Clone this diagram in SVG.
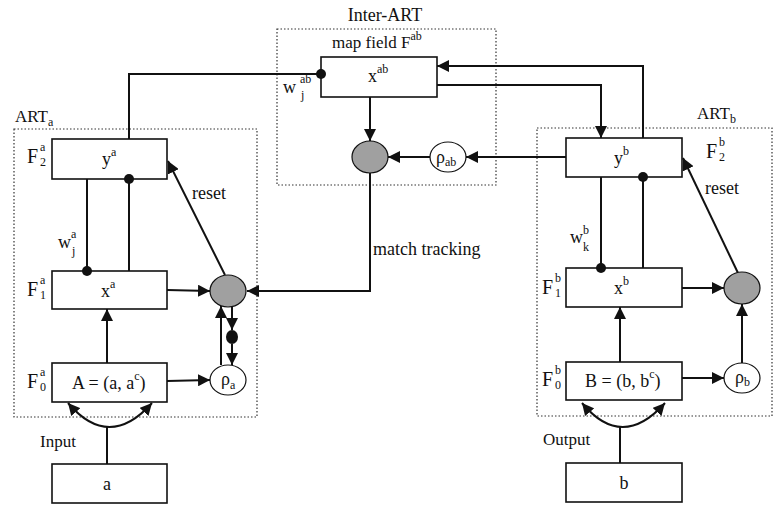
<svg xmlns="http://www.w3.org/2000/svg" width="781" height="518" viewBox="0 0 781 518">
<style>
text{font-family:"Liberation Serif","Times New Roman",serif;fill:#111;font-size:18px}
.sm{font-size:12px}
.fl{font-size:20px}
.fs{font-size:12px}
.lb{font-size:17px}
.box{fill:#fff;stroke:#111;stroke-width:1.6}
.zone{fill:none;stroke:#333;stroke-width:1.2;stroke-dasharray:1.5 2}
.gray{fill:#a0a0a0;stroke:#111;stroke-width:1.2}
.rho{fill:#fff;stroke:#111;stroke-width:1.2}
.ln{fill:none;stroke:#111;stroke-width:2}
.arr{fill:none;stroke:#111;stroke-width:2;marker-end:url(#ah)}
.dot{fill:#111}
</style>
<defs>
<marker id="ah" markerUnits="userSpaceOnUse" markerWidth="14" markerHeight="12" refX="12" refY="6" orient="auto-start-reverse">
<path d="M0,0 L12,6 L0,12 Z" fill="#111"/>
</marker>
</defs>
<rect width="781" height="518" fill="#fff"/>

<g id="zones">
<rect class="zone" x="14" y="129" width="243" height="288"/>
<rect class="zone" x="277" y="29" width="219" height="156"/>
<rect class="zone" x="537" y="128" width="235" height="288"/>
<text x="385" y="21" text-anchor="middle">Inter-ART</text>
<text class="lb" x="15" y="122">ART<tspan class="sm" dy="4">a</tspan></text>
<text class="lb" x="697" y="119">ART<tspan class="sm" dy="4">b</tspan></text>
</g>

<g id="connectors">
<path class="ln" d="M129,139 V74 H321"/>
<path class="ln" d="M129,179 V271"/>
<path class="ln" d="M87,179 V271"/>
<path class="arr" d="M225,275 L168,161"/>
<path class="arr" d="M167,290 L210,291"/>
<path class="arr" d="M107,363 V309"/>
<path class="arr" d="M167,381 L210,380"/>
<path class="arr" d="M221,365 V306"/>
<path class="arr" d="M232,306 V330"/>
<path class="arr" d="M232,344 V365"/>
<path class="arr" d="M370,173 V291 H247"/>
<path class="arr" d="M370,97 V141"/>
<path class="arr" d="M430,157 H388"/>
<path class="arr" d="M566,157 H466"/>
<path class="arr" d="M437,85 H601 V138"/>
<path class="arr" d="M643,138 V66 H437"/>
<path class="ln" d="M643,177 V268"/>
<path class="ln" d="M601,177 V268"/>
<path class="arr" d="M738,273 L683,158"/>
<path class="arr" d="M682,288 H724"/>
<path class="arr" d="M620,362 V307"/>
<path class="arr" d="M682,378 H724"/>
<path class="arr" d="M742,363 V304"/>
<path class="ln" d="M107,464 V427"/>
<path class="ln" d="M68,403 Q109,451 152,403" marker-start="url(#ah)" marker-end="url(#ah)"/>
<path class="ln" d="M620,463 V427"/>
<path class="ln" d="M582,403 Q622,451 665,403" marker-start="url(#ah)" marker-end="url(#ah)"/>
<text x="373" y="255">match tracking</text>
<text x="192" y="199">reset</text>
<text x="705" y="194">reset</text>
</g>

<g id="node-ya">
<rect class="box" x="52" y="139" width="115" height="40"/>
<text x="102" y="165">y<tspan class="sm" dy="-9">a</tspan></text>
<text class="fl" x="27" y="163">F</text>
<text class="fs" x="40" y="151">a</text>
<text class="fs" x="40" y="166">2</text>
</g>
<g id="node-xa">
<rect class="box" x="52" y="271" width="115" height="38"/>
<text x="101" y="297">x<tspan class="sm" dy="-9">a</tspan></text>
<text class="fl" x="27" y="296">F</text>
<text class="fs" x="40" y="284">a</text>
<text class="fs" x="40" y="299">1</text>
</g>
<g id="node-A">
<rect class="box" x="52" y="363" width="115" height="39"/>
<text x="72" y="389">A = (a, a<tspan class="sm" dy="-9">c</tspan><tspan dy="9">)</tspan></text>
<text class="fl" x="27" y="388">F</text>
<text class="fs" x="40" y="376">a</text>
<text class="fs" x="40" y="391">0</text>
</g>
<g id="node-a">
<rect class="box" x="52" y="464" width="115" height="39"/>
<text x="107" y="490" text-anchor="middle">a</text>
<text class="lb" x="40" y="447">Input</text>
</g>
<g id="node-resetA">
<ellipse class="gray" cx="228" cy="291" rx="18" ry="16"/>
</g>
<g id="node-gateA">
<ellipse class="dot" cx="232" cy="337" rx="6" ry="7"/>
</g>
<g id="node-rhoA">
<ellipse class="rho" cx="228" cy="380" rx="18" ry="15"/>
<text x="221" y="385">ρ<tspan class="sm" dy="4">a</tspan></text>
</g>
<g id="node-xab">
<rect class="box" x="321" y="57" width="116" height="40"/>
<text x="368" y="82">x<tspan class="sm" dy="-9">ab</tspan></text>
<text class="lb" x="332" y="48">map field F<tspan class="sm" dy="-8">ab</tspan></text>
<text x="283" y="93">w</text>
<text class="fs" x="300" y="83">ab</text>
<text class="fs" x="301" y="99">j</text>
</g>
<g id="node-resetAB">
<ellipse class="gray" cx="370" cy="157" rx="18" ry="16"/>
</g>
<g id="node-rhoAB">
<ellipse class="rho" cx="448" cy="157" rx="18" ry="15"/>
<text x="436" y="163">ρ<tspan class="sm" dy="3">ab</tspan></text>
</g>
<g id="node-yb">
<rect class="box" x="566" y="138" width="116" height="39"/>
<text x="614" y="164">y<tspan class="sm" dy="-9">b</tspan></text>
<text class="fl" x="706" y="158">F</text>
<text class="fs" x="719" y="146">b</text>
<text class="fs" x="719" y="161">2</text>
</g>
<g id="node-xb">
<rect class="box" x="566" y="268" width="116" height="39"/>
<text x="614" y="294">x<tspan class="sm" dy="-9">b</tspan></text>
<text class="fl" x="542" y="294">F</text>
<text class="fs" x="555" y="282">b</text>
<text class="fs" x="555" y="297">1</text>
</g>
<g id="node-B">
<rect class="box" x="566" y="362" width="116" height="38"/>
<text x="585" y="387">B = (b, b<tspan class="sm" dy="-9">c</tspan><tspan dy="9">)</tspan></text>
<text class="fl" x="542" y="386">F</text>
<text class="fs" x="555" y="374">b</text>
<text class="fs" x="555" y="389">0</text>
</g>
<g id="node-b">
<rect class="box" x="566" y="463" width="116" height="39"/>
<text x="624" y="489" text-anchor="middle">b</text>
<text class="lb" x="543" y="445">Output</text>
</g>
<g id="node-resetB">
<ellipse class="gray" cx="742" cy="288" rx="18" ry="16"/>
</g>
<g id="node-rhoB">
<ellipse class="rho" cx="742" cy="378" rx="18" ry="15"/>
<text x="735" y="383">ρ<tspan class="sm" dy="3">b</tspan></text>
</g>
<g id="weights">
<circle class="dot" cx="129" cy="179" r="5"/>
<circle class="dot" cx="87" cy="271" r="5"/>
<circle class="dot" cx="321" cy="74" r="5"/>
<circle class="dot" cx="643" cy="177" r="5"/>
<circle class="dot" cx="601" cy="268" r="5"/>
<text x="58" y="248">w</text>
<text class="fs" x="71" y="238">a</text>
<text class="fs" x="72" y="255">j</text>
<text x="570" y="243">w</text>
<text class="fs" x="583" y="234">b</text>
<text class="fs" x="583" y="251">k</text>
</g>
</svg>
